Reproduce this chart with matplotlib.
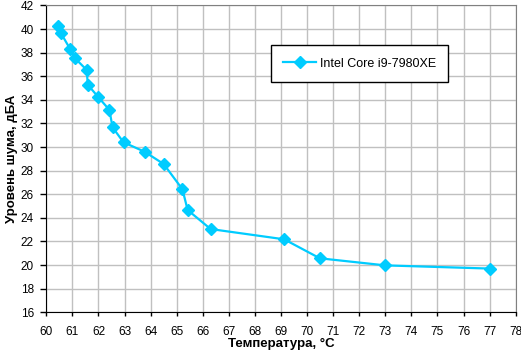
import matplotlib
matplotlib.use('Agg')
import matplotlib.pyplot as plt
import numpy as np

plt.rcParams['font.family'] = ['Liberation Sans', 'DejaVu Sans']

temps = [60.46, 60.55, 60.92, 61.10, 61.55, 61.59, 62.00, 62.42, 62.54, 62.96,
         63.77, 64.50, 65.22, 65.42, 66.30, 69.12, 70.49, 73.00, 77.00]
noise = [40.25, 39.69, 38.28, 37.52, 36.53, 35.28, 34.21, 33.14, 31.67, 30.40,
         29.60, 28.56, 26.42, 24.66, 23.05, 22.18, 20.57, 19.97, 19.70]
series_name = 'Intel Core i9-7980XE'
color = '#00CCFF'

fig = plt.figure(figsize=(5.21, 3.54), dpi=100)
ax = fig.add_axes([0.0889, 0.118, 0.9009, 0.8667])

ax.plot(temps, noise, color=color, lw=1.6, marker='D', markersize=6.5,
        label=series_name)

ax.set_xlim(60, 78)
ax.set_ylim(16, 42)
ax.set_xticks(np.arange(60, 79, 1))
ax.set_yticks(np.arange(16, 43, 2))
ax.grid(True, color='#C0C0C0', lw=1)
ax.set_axisbelow(True)
ax.tick_params(direction='out', width=1, labelsize=8.5, color='black')
ax.tick_params(axis='x', length=3, pad=7)
ax.tick_params(axis='y', length=4, pad=5)
for s in ['left', 'bottom']:
    ax.spines[s].set_color('black')
for s in ['top', 'right']:
    ax.spines[s].set_color('#808080')

ax.set_xlabel('Температура, °C', fontsize=9.5, fontweight='bold', labelpad=0)
ax.set_ylabel('Уровень шума, дБА', fontsize=9.5, fontweight='bold', labelpad=2)

leg = ax.legend(loc='center', bbox_to_anchor=(0.690, 0.820),
                bbox_transform=fig.transFigure, fontsize=9, fancybox=False,
                edgecolor='black', framealpha=1, borderpad=1.0, handlelength=2.6,
                handletextpad=0.3)
leg.get_frame().set_linewidth(1)

fig.savefig('out.png', dpi=100)
